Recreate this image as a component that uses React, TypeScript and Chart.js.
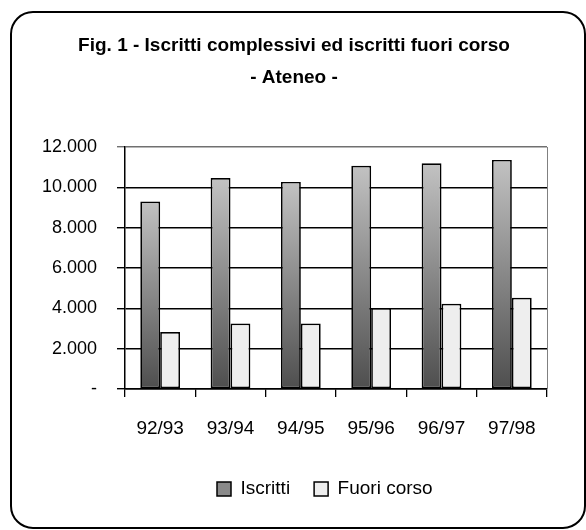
import React, { useEffect, useRef } from "react";
import { Chart, registerables } from "chart.js";

Chart.register(...registerables);

const categories = ["92/93", "93/94", "94/95", "95/96", "96/97", "97/98"];
const iscritti = [9300, 10460, 10270, 11070, 11190, 11360];
const fuoriCorso = [2830, 3250, 3250, 4010, 4230, 4520];
const seriesLabels = ["Iscritti", "Fuori corso"];
const titleLines = ["Fig. 1 - Iscritti complessivi ed iscritti fuori corso", "- Ateneo -"];
const yMax = 12000;
const yStep = 2000;

const FONT = "'Liberation Sans', Arial, sans-serif";

function fmt(v: number): string {
  if (v === 0) return "-";
  return String(v).replace(/\B(?=(\d{3})+(?!\d))/g, ".");
}

const framePlugin = {
  id: "frame",
  beforeDraw(chart: any) {
    const ctx = chart.ctx;
    ctx.save();
    ctx.fillStyle = "#ffffff";
    ctx.fillRect(0, 0, chart.width, chart.height);
    const x = 11, y = 12, w = 574, h = 516, r = 22;
    ctx.beginPath();
    ctx.moveTo(x + r, y);
    ctx.lineTo(x + w - r, y);
    ctx.arcTo(x + w, y, x + w, y + r, r);
    ctx.lineTo(x + w, y + h - r);
    ctx.arcTo(x + w, y + h, x + w - r, y + h, r);
    ctx.lineTo(x + r, y + h);
    ctx.arcTo(x, y + h, x, y + h - r, r);
    ctx.lineTo(x, y + r);
    ctx.arcTo(x, y, x + r, y, r);
    ctx.closePath();
    ctx.lineWidth = 2;
    ctx.strokeStyle = "#000";
    ctx.stroke();
    ctx.restore();

    const lg = chart.legend;
    if (lg && lg.lineWidths) {
      const pad = lg.options.labels.padding;
      const cur = (lg.left + pad + lg.right - lg.lineWidths[0]) / 2;
      const d = 217 - cur;
      lg.left += d;
      lg.right += d;
      lg.adjustHitBoxes();
    }
  },
  beforeDatasetsDraw(chart: any) {
    const { ctx, chartArea } = chart;
    ctx.save();
    ctx.strokeStyle = "#808080";
    ctx.lineWidth = 1;
    ctx.beginPath();
    ctx.moveTo(chartArea.right + 0.5, chartArea.top);
    ctx.lineTo(chartArea.right + 0.5, chartArea.bottom);
    ctx.stroke();
    ctx.restore();
  },
  afterDraw(chart: any) {
    const lg = chart.legend;
    if (!lg || !lg.legendHitBoxes || !lg.legendHitBoxes[0]) return;
    const hb = lg.legendHitBoxes[0];
    const fs = lg.options.labels.font.size;
    const bw = lg.options.labels.boxWidth;
    const bh = lg.options.labels.boxHeight;
    const top = hb.top + Math.max((fs - bh) / 2, 0);
    const ctx = chart.ctx;
    ctx.save();
    const g = ctx.createLinearGradient(0, top, 0, top + bh);
    g.addColorStop(0, "#c2c2c2");
    g.addColorStop(1, "#4e4e4e");
    ctx.fillStyle = g;
    ctx.fillRect(hb.left, top, bw, bh);
    ctx.lineWidth = 1.5;
    ctx.strokeStyle = "#000";
    ctx.strokeRect(hb.left, top, bw, bh);
    ctx.restore();
  },
};

export default function App() {
  const ref = useRef<HTMLCanvasElement | null>(null);
  useEffect(() => {
    if (!ref.current) return;
    const chart = new Chart(ref.current, {
      type: "bar",
      data: {
        labels: categories,
        datasets: [
          {
            label: seriesLabels[0],
            data: iscritti,
            backgroundColor: (c: any) => {
              const ch = c.chart;
              const y = ch.scales && ch.scales.y;
              if (!y || c.type !== "data") return "#8a8a8a";
              const top = y.getPixelForValue(c.raw);
              const bottom = y.getPixelForValue(0);
              if (!isFinite(top) || !isFinite(bottom) || top === bottom) return "#8a8a8a";
              const g = ch.ctx.createLinearGradient(0, top, 0, bottom);
              g.addColorStop(0, "#c2c2c2");
              g.addColorStop(1, "#4e4e4e");
              return g;
            },
            borderColor: "#000",
            borderWidth: 1.7,
            borderSkipped: false,
            categoryPercentage: 0.565,
            barPercentage: 1,
          },
          {
            label: seriesLabels[1],
            data: fuoriCorso,
            backgroundColor: "#eeeeee",
            borderColor: "#000",
            borderWidth: 1.7,
            borderSkipped: false,
            categoryPercentage: 0.565,
            barPercentage: 1,
          },
        ],
      },
      options: {
        responsive: false,
        animation: false,
        devicePixelRatio: 1,
        events: [],
        layout: { padding: { top: 0, left: 41, right: 39, bottom: 21.5 } },
        font: { family: FONT },
        color: "#000",
        plugins: {
          tooltip: { enabled: false },
          title: {
            display: true,
            text: titleLines,
            color: "#000",
            font: { family: FONT, size: 19, weight: "bold", lineHeight: 32 / 19 },
            padding: { top: 30, bottom: 53 },
          },
          legend: {
            display: true,
            position: "bottom",
            labels: {
              color: "#000",
              font: { family: FONT, size: 19 },
              boxWidth: 14,
              boxHeight: 14,
              padding: 24,
              generateLabels: (ch: any) =>
                ch.data.datasets.map((ds: any, i: number) => ({
                  text: ds.label,
                  fillStyle: i === 0 ? "#8a8a8a" : "#eeeeee",
                  strokeStyle: "#000",
                  lineWidth: 1.5,
                  hidden: false,
                  datasetIndex: i,
                  fontColor: "#000",
                })),
            },
          },
        },
        scales: {
          x: {
            grid: {
              display: true,
              drawOnChartArea: false,
              drawTicks: true,
              tickLength: 8,
              color: "#000",
              lineWidth: 1.3,
              offset: true,
            },
            border: { display: true, color: "#000", width: 1.5 },
            ticks: { color: "#000", font: { family: FONT, size: 19 }, padding: 20, maxRotation: 0 },
            afterFit: (s: any) => {
              s.height = 66.5;
            },
          },
          y: {
            min: 0,
            max: yMax,
            grid: {
              drawTicks: true,
              tickLength: 8,
              color: (c: any) => (c.tick && c.tick.value === yMax ? "#707070" : "#000"),
              lineWidth: 1.4,
            },
            border: { display: true, color: "#000", width: 1.5 },
            ticks: {
              stepSize: yStep,
              color: "#000",
              font: { family: FONT, size: 18 },
              padding: 20,
              callback: (v: any) => fmt(Number(v)),
            },
            afterFit: (s: any) => {
              s.width = 84;
            },
          },
        },
      },
      plugins: [framePlugin],
    } as any);
    return () => chart.destroy();
  }, []);
  return (
    <div style={{ position: "absolute", left: 0, top: 0, width: 586, height: 530 }}>
      <canvas ref={ref} width={586} height={530} style={{ display: "block" }} />
    </div>
  );
}
